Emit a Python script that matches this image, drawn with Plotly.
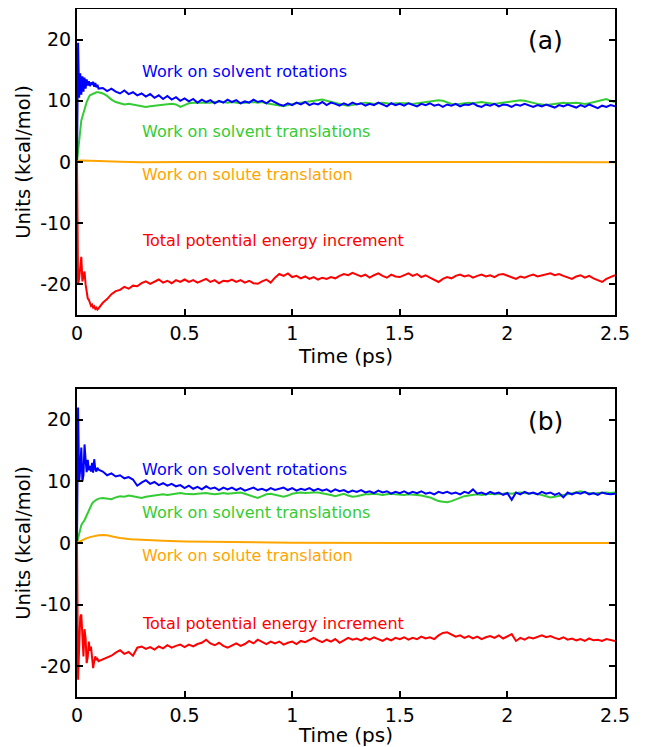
import numpy as np
import plotly.graph_objects as go

# ---- time grids (ps) ----
t_early = np.round(np.arange(0, 0.1001, 0.005), 4)   # 21 points
t_late = np.round(np.arange(0.12, 2.5001, 0.02), 4)  # 120 points
time = np.concatenate([t_early, t_late])

# ---- panel (a) ----
a_rot = [0, 19.5, 10.5, 14.5, 11.0, 14.0, 11.5, 13.8, 12.0, 13.5, 12.5, 13.2, 12.4, 13.0, 12.6, 13.1, 12.3, 12.9, 12.2, 12.6, 12.0,
         12.1, 11.6, 12.0, 11.5, 11.2, 11.7, 11.1, 11.4, 10.9, 11.2,
         10.7, 11.1, 10.5, 10.9, 10.3, 10.8, 10.2, 10.6, 10.0, 10.4,
         9.9, 10.3, 9.7, 10.2, 9.8, 10.1, 9.6, 10.0, 9.7, 10.2,
         9.8, 10.1, 9.6, 9.9, 9.7, 10.2, 9.8, 10.0, 9.6, 10.1,
         9.7, 9.4, 9.2, 9.6, 9.3, 9.7, 9.4, 9.8, 9.3, 9.6,
         9.4, 9.8, 9.3, 9.7, 9.5, 9.2, 9.6, 9.3, 9.7, 9.4,
         9.6, 9.2, 9.5, 9.3, 9.7, 9.4, 9.1, 9.6, 9.3, 9.5,
         9.2, 9.6, 9.4, 9.1, 9.5, 9.3, 9.6, 9.2, 9.4, 9.0,
         9.4, 9.2, 9.5, 9.1, 9.4, 9.3, 9.6, 9.2, 9.0, 9.4,
         9.2, 9.5, 9.1, 9.4, 9.3, 9.0, 9.4, 9.2, 9.5, 9.3,
         9.0, 9.3, 9.1, 9.4, 9.2, 8.9, 9.3, 9.1, 9.4, 9.2,
         8.9, 9.3, 9.0, 9.4, 9.1, 8.8, 9.2, 9.0, 9.3, 9.1]

a_trans = [0, 2.0, 4.0, 5.6, 6.8, 7.4, 7.9, 8.5, 9.2, 9.8, 10.3, 10.6, 10.9, 11.0, 11.1, 11.2, 11.2, 11.3, 11.4, 11.4, 11.4,
           11.2, 10.8, 10.2, 9.8, 9.6, 9.4, 9.5, 9.4, 9.2, 9.1,
           9.0, 9.1, 9.2, 9.3, 9.3, 9.4, 9.5, 9.4, 9.0, 9.3,
           9.6, 9.7, 9.7, 9.6, 9.6, 9.7, 9.8, 9.9, 9.8, 9.7,
           9.8, 9.7, 9.6, 9.7, 9.8, 9.8, 9.7, 9.8, 9.6, 9.5,
           9.4, 9.2, 9.1, 9.3, 9.5, 9.6, 9.7, 9.8, 9.9, 10.0,
           10.1, 10.2, 10.0, 9.8, 9.6, 9.5, 9.3, 9.2, 9.3, 9.5,
           9.6, 9.7, 9.6, 9.5, 9.6, 9.7, 9.6, 9.5, 9.6, 9.6,
           9.7, 9.6, 9.5, 9.6, 9.7, 9.8, 9.9, 10.0, 10.1, 10.0,
           9.7, 9.5, 9.4, 9.5, 9.6, 9.7, 9.6, 9.7, 9.8, 9.7,
           9.6, 9.5, 9.6, 9.7, 9.8, 9.9, 10.0, 10.1, 10.0, 9.8,
           9.6, 9.5, 9.4, 9.3, 9.4, 9.5, 9.6, 9.7, 9.6, 9.7,
           9.7, 9.6, 9.5, 9.6, 9.8, 10.0, 10.2, 10.3, 10.0, 9.8]

a_total = [0, -20.0, -19.0, -16.5, -15.5, -19.5, -18.5, -17.9, -20.0, -21.4, -22.3, -22.5, -23.0, -23.5, -23.3, -23.8, -23.6, -24.0, -23.8, -24.1, -23.9,
           -23.0, -22.4, -21.6, -21.1, -20.9, -20.4, -20.7, -20.2, -20.3, -19.8,
           -19.5, -19.9, -19.6, -19.2, -19.7, -19.4, -19.8, -19.3, -19.6, -19.2,
           -19.6, -19.3, -19.7, -19.4, -19.1, -19.6, -19.3, -19.8, -19.4, -19.5,
           -19.2, -19.6, -19.3, -19.7, -19.4, -19.8, -19.9, -19.5, -19.2, -19.7,
           -18.9, -18.3, -18.6, -18.2, -18.8, -18.6, -19.0, -18.7, -19.1, -18.8,
           -19.2, -18.9, -19.1, -18.8, -19.0, -18.6, -18.3, -18.5, -18.1, -18.4,
           -18.7, -18.4, -18.9, -18.5, -18.2, -18.6, -18.9, -18.4, -18.7, -18.8,
           -18.5, -18.2, -18.6, -18.3, -18.8, -18.5, -18.9, -19.2, -19.6, -19.1,
           -18.8, -19.0, -18.6, -18.4, -18.7, -18.5, -18.9, -18.6, -18.4, -18.7,
           -18.5, -18.8, -18.4, -18.3, -18.6, -18.9, -19.1, -18.7, -18.9, -18.6,
           -18.4, -18.7, -18.5, -18.3, -18.2, -18.5, -18.3, -18.6, -18.8, -19.1,
           -18.7, -18.5, -18.9, -18.6, -19.0, -19.3, -19.6, -19.1, -18.8, -18.5]

a_solute_t = [0, 0.01, 0.02, 0.04, 0.06, 0.1, 0.2, 0.3, 0.5, 0.7, 1.0, 1.5, 2.0, 2.5]
a_solute = [0, 0.2, 0.25, 0.25, 0.2, 0.15, 0.05, -0.05, 0.0, 0.05, 0.0, 0.0, 0.05, -0.02]

# ---- panel (b) ----
b_rot = [0, 22.0, 10.0, 12.0, 15.5, 10.0, 11.0, 16.0, 13.5, 11.5, 13.5, 11.8, 12.5, 11.6, 13.0, 11.4, 13.6, 12.0, 11.6, 12.2, 11.9,
         11.6, 11.0, 11.3, 10.8, 11.0, 10.5, 10.7, 10.3, 9.3, 9.8,
         10.2, 9.6, 9.9, 9.4, 9.7, 9.3, 9.6, 9.2, 9.4, 8.9,
         9.3, 8.8, 9.1, 8.7, 9.2, 8.8, 9.0, 8.6, 9.0, 8.7,
         9.0, 8.6, 8.9, 8.5, 8.8, 9.0, 8.6, 8.8, 8.5, 8.9,
         8.6, 8.8, 9.0, 8.6, 8.9, 8.5, 8.8, 8.6, 8.9, 8.5,
         8.8, 8.5, 8.7, 8.3, 8.7, 8.4, 8.6, 8.2, 8.5, 8.3,
         8.6, 8.2, 8.4, 8.1, 8.5, 8.2, 8.4, 8.0, 8.3, 8.1,
         8.4, 8.0, 8.3, 8.1, 8.4, 8.0, 8.2, 7.9, 8.3, 8.1,
         8.3, 8.0, 8.2, 7.9, 8.3, 8.1, 8.7, 8.0, 8.2, 7.9,
         8.3, 8.0, 8.2, 7.8, 8.1, 7.0, 8.2, 7.9, 8.3, 8.0,
         8.2, 7.9, 8.3, 8.0, 8.2, 7.8, 8.1, 7.4, 8.2, 7.9,
         8.2, 8.0, 8.3, 7.9, 8.1, 7.8, 8.2, 8.0, 7.9, 8.0]

b_trans = [0, 0.8, 1.6, 2.3, 2.9, 3.2, 3.4, 3.7, 4.1, 4.5, 4.9, 5.3, 5.7, 6.1, 6.4, 6.6, 6.8, 6.9, 7.0, 7.1, 7.2,
           7.3, 7.2, 7.1, 7.4, 7.6, 7.5, 7.7, 7.6, 7.4, 7.3,
           7.5, 7.6, 7.7, 7.8, 7.9, 7.8, 7.9, 8.0, 8.1, 8.0,
           7.9, 7.9, 8.0, 8.1, 8.1, 8.0, 7.9, 8.0, 8.1, 8.0,
           8.1, 8.2, 8.2, 8.0, 7.8, 7.5, 7.3, 7.6, 7.9, 8.0,
           7.8, 7.6, 7.5, 7.7, 8.0, 8.1, 8.2, 8.1, 8.2, 8.2,
           8.2, 8.1, 8.0, 7.8, 7.6, 7.8, 8.0, 7.7, 7.5, 7.6,
           7.8, 7.9, 7.9, 8.0, 7.9, 7.8, 7.9, 8.0, 7.9, 7.8,
           7.8, 7.9, 7.9, 7.8, 7.7, 7.6, 7.4, 7.1, 6.8, 6.7,
           6.6, 6.8, 7.1, 7.4, 7.6, 7.7, 7.8, 7.9, 7.8, 7.9,
           8.0, 7.9, 7.9, 8.0, 8.1, 8.0, 8.1, 8.2, 8.1, 8.0,
           8.1, 8.0, 7.8, 7.6, 7.4, 7.5, 7.7, 7.8, 7.9, 8.1,
           8.3, 8.4, 8.2, 8.1, 8.0, 8.1, 8.2, 8.2, 8.1, 8.2]

b_total = [0, -22.2, -17.0, -12.0, -11.6, -16.0, -18.4, -14.0, -15.5, -19.5, -18.5, -16.0, -17.5, -16.8, -19.0, -20.3, -19.2, -18.4, -19.0, -18.8, -19.2,
           -18.9, -18.6, -18.3, -17.8, -17.4, -18.0, -17.7, -18.3, -17.0, -16.8,
           -17.2, -16.9, -17.3, -16.8, -17.1, -16.6, -17.0, -16.7, -16.5, -16.9,
           -16.5, -16.8, -16.4, -16.2, -15.7, -16.3, -16.6, -16.2, -16.7, -17.0,
           -16.6, -16.3, -16.7, -16.4, -15.9, -16.3, -15.7, -16.1, -16.4, -16.0,
           -16.3, -16.0, -16.5, -16.2, -16.0, -16.4, -15.9, -16.1, -15.8, -15.4,
           -15.8, -16.1, -15.7, -16.0, -15.6, -16.2, -15.8, -15.4, -15.7, -15.5,
           -15.8, -15.4, -15.7, -15.3, -15.6, -15.9, -15.5, -15.8, -15.4, -15.6,
           -15.3, -15.7, -15.4, -15.6, -15.2, -15.5, -15.3, -15.6, -15.0, -14.6,
           -14.5, -14.9, -15.2, -15.0, -15.4, -15.1, -15.5, -15.2, -15.6, -15.3,
           -15.1, -15.4, -15.0, -15.5, -15.2, -14.8, -15.9, -15.4, -15.7, -15.3,
           -15.5, -15.2, -15.0, -15.3, -15.1, -15.4, -15.6, -15.3, -15.7, -15.5,
           -15.8, -15.6, -15.9, -15.5, -15.8, -15.7, -15.9, -15.6, -15.8, -15.9]

b_solute_t = [0, 0.02, 0.04, 0.06, 0.08, 0.1, 0.12, 0.14, 0.17, 0.2, 0.25, 0.3, 0.4, 0.5, 0.7, 1.0, 1.5, 2.0, 2.5]
b_solute = [0, 0.4, 0.7, 0.95, 1.15, 1.25, 1.3, 1.25, 1.0, 0.8, 0.6, 0.5, 0.35, 0.25, 0.15, 0.05, 0.0, 0.05, 0.0]

for arr in (a_rot, a_trans, a_total, b_rot, b_trans, b_total):
    assert len(arr) == len(time), len(arr)

x_ticks = [0, 0.5, 1, 1.5, 2, 2.5]
x_ticktext = ["0", "0.5", "1", "1.5", "2", "2.5"]
y_ticks = [-20, -10, 0, 10, 20]
y_ticktext = ["-20", "-10", "0", "10", "20"]

labels = ["Work on solvent rotations", "Work on solvent translations",
          "Work on solute translation", "Total potential energy increment"]
colors = ["#0000ff", "#33cc33", "#ffa500", "#ff0000"]

FONT = "DejaVu Sans, Liberation Sans, sans-serif"

fig = go.Figure()
panels = [
    ("x", "y", a_rot, a_trans, a_solute_t, a_solute, a_total),
    ("x2", "y2", b_rot, b_trans, b_solute_t, b_solute, b_total),
]
for xa, ya, rot, trans, st, sol, tot in panels:
    fig.add_trace(go.Scatter(x=time, y=trans, mode="lines", line=dict(color=colors[1], width=2), xaxis=xa, yaxis=ya, showlegend=False))
    fig.add_trace(go.Scatter(x=time, y=rot, mode="lines", line=dict(color=colors[0], width=2), xaxis=xa, yaxis=ya, showlegend=False))
    fig.add_trace(go.Scatter(x=st, y=sol, mode="lines", line=dict(color=colors[2], width=2), xaxis=xa, yaxis=ya, showlegend=False))
    fig.add_trace(go.Scatter(x=time, y=tot, mode="lines", line=dict(color=colors[3], width=2), xaxis=xa, yaxis=ya, showlegend=False))

axis_common = dict(showline=True, linecolor="black", linewidth=2, mirror="allticks",
                   ticks="inside", ticklen=6, tickwidth=1.5, tickcolor="black",
                   showgrid=False, zeroline=False, automargin=False,
                   tickfont=dict(family=FONT, size=19, color="black"))

xa = dict(axis_common, range=[0, 2.5], tickvals=x_ticks, ticktext=x_ticktext,
          title=dict(text="Time (ps)", font=dict(family=FONT, size=20, color="black"), standoff=2))
ya = dict(axis_common, range=[-25, 25], tickvals=y_ticks, ticktext=y_ticktext,
          title=dict(text="Units (kcal/mol)", font=dict(family=FONT, size=19.5, color="black"), standoff=4))

# browser body adds an 8px offset: figure is 652x739 inside the 660x747 window
fig.update_layout(
    width=652, height=739,
    margin=dict(l=69, r=45, t=1, b=50),
    plot_bgcolor="white", paper_bgcolor="white",
    xaxis=dict(xa, domain=[0, 1], anchor="y"),
    yaxis=dict(ya, domain=[0.5552, 1.0], anchor="x"),
    xaxis2=dict(xa, domain=[0, 1], anchor="y2"),
    yaxis2=dict(ya, domain=[0.0, 0.4477], anchor="x2"),
)

ann_a = [14.8, 5.0, -2.1, -12.9]
ann_b = [12.0, 5.0, -2.0, -13.0]
for xr, yr, ys, tag in (("x", "y", ann_a, "(a)"), ("x2", "y2", ann_b, "(b)")):
    for lab, col, yv in zip(labels, colors, ys):
        fig.add_annotation(x=0.295, y=yv, xref=xr, yref=yr, text=lab, showarrow=False,
                           xanchor="left", yanchor="middle",
                           font=dict(family=FONT, size=16, color=col))
    fig.add_annotation(x=2.175, y=19.8, xref=xr, yref=yr, text=tag, showarrow=False,
                       xanchor="center", yanchor="middle",
                       font=dict(family=FONT, size=25, color="black"))

fig.write_html("out.html")
